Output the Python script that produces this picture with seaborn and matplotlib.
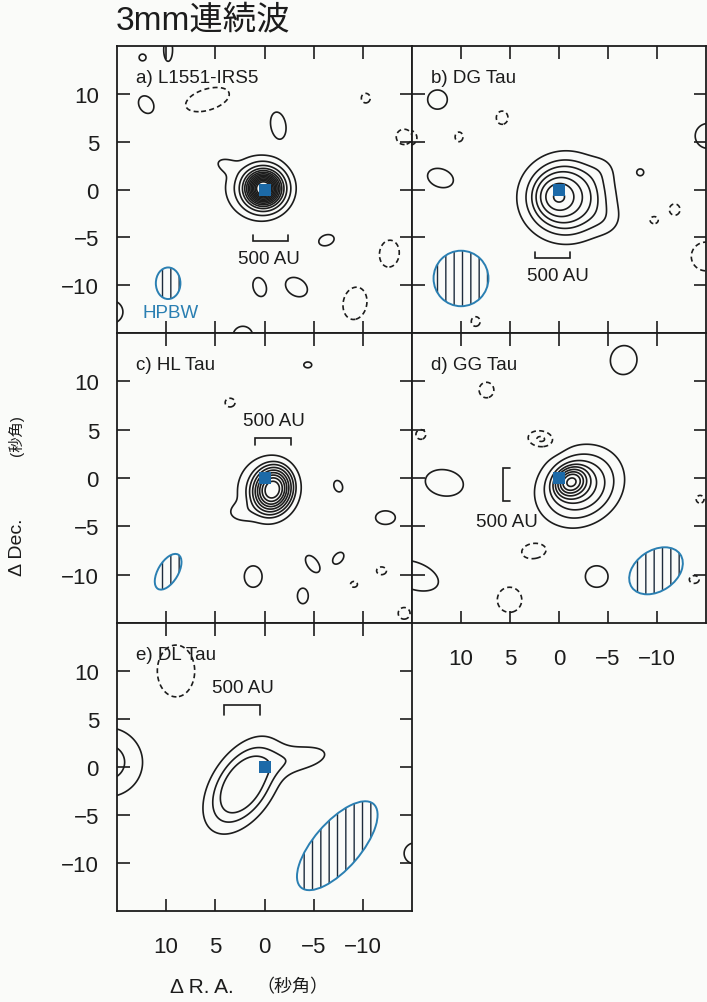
import numpy as np
import matplotlib
matplotlib.use("Agg")
import matplotlib.pyplot as plt
from matplotlib.patches import Ellipse
import seaborn as sns

W, H = 707, 1003
BG = "#fafbf9"
INK = "#1c1c1c"
SQ_BLUE = "#1c6aa8"
BEAM_BLUE = "#2a7fb2"
HATCH_INK = "#1d2b3c"

# ---------------- data ----------------
panel_titles = ["a) L1551-IRS5", "b) DG Tau", "c) HL Tau", "d) GG Tau", "e) DL Tau"]
tick_values = [10, 5, 0, -5, -10]
tick_labels = ["10", "5", "0", "\u22125", "\u221210"]
title_text = "3mm連続波"
xlabel_main, xlabel_unit = "Δ R. A.", "（秒角）"
ylabel_main, ylabel_unit = "Δ Dec.", "(秒角)"

# main emission components: (x, y, amplitude, sigma_major, sigma_minor, angle_deg)
src_a = [(0.1, 0.1, 40, 1.1, 1.1, 0), (0.7, 0.2, 2.5, 2.3, 2.2, 0), (4.0, 2.6, 1.0, 0.9, 0.55, 20)]
src_b = [(0.1, -0.75, 6, 1.0, 1.0, 0), (-0.5, -0.8, 4, 2.2, 2.2, 0), (-1.0, -0.9, 2, 3.5, 3.3, 0),
         (-5.0, -3.3, 0.5, 1.2, 1.2, 0), (-4.5, 2.2, 0.4, 1.0, 1.0, 0)]
src_c = [(-0.8, -1.2, 25, 1.1, 0.9, 105), (-0.4, -1.2, 3.0, 2.3, 2.1, 100), (2.6, -3.6, 0.9, 1.0, 0.7, 0)]
src_d = [(-1.2, -0.4, 6, 1.0, 0.85, 145), (-2.1, -0.85, 4, 2.9, 2.45, 145)]
src_e = [(2.2, -1.9, 5, 3.15, 1.8, 122), (-3.8, 0.9, 1.5, 2.6, 1.1, 168)]

# noise islands: (x, y, amplitude, level-1 radius major, level-1 radius minor, angle_deg)
blobs_a = [(12.4, 13.8, 1.6, 0.35, 0.35, 0), (9.8, 14.6, 1.6, 1.2, 0.45, 90), (12.0, 8.85, 1.6, 1.0, 0.75, 60),
           (5.8, 9.4, -1.6, 2.3, 1.1, 162), (-10.3, 9.55, -1.6, 0.5, 0.45, 90), (-1.4, 6.75, 1.6, 1.35, 0.75, 80),
           (-14.2, 5.5, -1.6, 0.8, 0.8, 0), (-6.3, -5.3, 1.6, 0.8, 0.55, 160), (-12.7, -6.7, -1.6, 1.4, 1.0, 95),
           (0.5, -10.2, 1.6, 1.0, 0.65, 75), (-3.25, -10.2, 1.6, 1.2, 0.9, 35), (-9.2, -11.9, -1.6, 1.7, 1.2, 100),
           (15.6, -12.8, 1.6, 1.2, 1.2, 0), (2.2, -15.3, 1.6, 1.0, 1.0, 0)]
blobs_b = [(12.4, 9.4, 1.6, 1.0, 1.0, 0), (5.8, 7.5, -1.6, 0.7, 0.6, 90), (10.2, 5.5, -1.6, 0.5, 0.4, 90),
           (15.3, 5.4, -1.6, 0.8, 0.8, 0), (12.1, 1.2, 1.6, 1.35, 0.95, 20), (-8.3, 1.8, 1.6, 0.3, 0.3, 0),
           (-11.8, -2.1, -1.6, 0.6, 0.55, 90), (-9.7, -3.2, -1.6, 0.45, 0.4, 0), (-15.2, 5.6, 1.6, 1.3, 1.3, 0),
           (-15.0, -7.0, -1.6, 1.5, 1.5, 0), (8.5, -13.8, -1.6, 0.5, 0.45, 90)]
blobs_c = [(-4.4, 11.7, 1.6, 0.4, 0.3, 0), (3.5, 7.8, -1.6, 0.5, 0.45, 0), (-7.5, -0.85, 1.6, 0.6, 0.42, 70),
           (-12.3, -4.1, 1.6, 1.0, 0.7, 0), (1.15, -10.2, 1.6, 1.1, 0.9, 90), (-4.9, -8.9, 1.6, 1.0, 0.55, 55),
           (-7.5, -8.3, 1.6, 0.7, 0.45, 130), (-3.9, -12.2, 1.6, 0.8, 0.55, 90), (-11.9, -9.6, -1.6, 0.5, 0.4, 0),
           (-9.1, -11.0, -1.6, 0.35, 0.3, 0), (-14.2, -14.0, -1.6, 0.6, 0.6, 0)]
blobs_d = [(-6.6, 12.2, 1.6, 1.5, 1.35, 100), (7.4, 9.1, -1.6, 0.8, 0.75, 90), (1.8, 4.0, -2.3, 1.4, 0.9, 10),
           (14.1, 4.5, -1.6, 0.5, 0.5, 0), (-14.4, -2.2, -1.6, 0.4, 0.4, 0), (11.7, -0.5, 1.6, 1.95, 1.35, 10),
           (2.5, -7.5, -1.6, 1.35, 0.85, 170), (14.8, -10.1, 1.6, 2.6, 1.4, 20), (5.05, -12.6, -1.6, 1.25, 1.3, 0),
           (-3.85, -10.2, 1.6, 1.15, 1.1, 0), (-13.8, -10.5, -1.6, 0.5, 0.4, 0)]
blobs_e = [(9.0, 10.0, -1.6, 2.7, 1.9, 90), (16.0, 0.5, 2.5, 3.6, 3.6, 0), (-15.3, -9.0, 1.6, 1.1, 1.1, 0)]

levels_a = [1, 2.5, 5, 8, 11, 14, 17, 20, 23, 26, 29, 32, 35]
levels_b = [1, 1.8, 2.6, 3.5, 4.9, 7.2, 10.8]
levels_c = [1, 2, 3, 4.5, 6.5, 9, 12, 16, 21]
levels_d = [1, 1.8, 2.6, 3.4, 4.2, 5.2, 6.3, 7.5, 9.0]
levels_e = [1, 2, 3]
neg_levels_a = [-1]
neg_levels_b = [-1]
neg_levels_c = [-1]
neg_levels_d = [-2, -1]
neg_levels_e = [-1]

# beam (HPBW): (x, y, semi_major, semi_minor, angle_deg)
beam_a = (9.8, -9.8, 1.65, 1.25, 90)
beam_b = (10.0, -9.3, 2.9, 2.8, 90)
beam_c = (9.8, -9.7, 2.05, 1.03, 120)
beam_d = (-9.9, -9.6, 3.0, 2.1, 145)
beam_e = (-7.4, -8.2, 5.7, 2.4, 130)

# stellar position markers
star_x = [0, 0, 0, 0, 0]
star_y = [0, 0, 0, 0, 0]

# 500 AU scale bars: (orientation, start, end, position, tick length)
bar_a = ("h", 1.2, -2.4, -5.4, 0.6)
bar_b = ("h", 2.4, -1.1, -7.2, 0.7)
bar_c = ("h", 1.0, -2.7, 4.1, -0.65)
bar_d = ("v", 1.05, -2.4, 5.7, -0.7)
bar_e = ("h", 4.15, 0.5, 6.45, -1.05)
bar_text_xy = [(-0.5, -7.2), (0.15, -9.0), (-1.0, 6.0), (5.3, -4.5), (2.2, 8.25)]
bar_text = "500 AU"
hpbw_text, hpbw_xy = "HPBW", (9.5, -12.9)

# ---------------- style ----------------
sns.set_theme(style="ticks")
plt.rcParams["font.family"] = ["Liberation Sans", "Noto Sans CJK JP", "DejaVu Sans"]
plt.rcParams["hatch.linewidth"] = 1.0
plt.rcParams["lines.dashed_pattern"] = [3.0, 2.0]
plt.rcParams["axes.unicode_minus"] = True

fig = plt.figure(figsize=(W / 100, H / 100), dpi=100, facecolor=BG)


def rect(l, t, r, b):
    return [l / W, 1 - b / H, (r - l) / W, (b - t) / H]


boxes = [rect(117, 47, 412, 334), rect(412, 47, 706, 334), rect(117, 334, 412, 624),
         rect(412, 334, 706, 624), rect(117, 624, 412, 912)]
show_left = [True, False, True, False, True]
show_bottom = [False, False, False, True, True]

gx = np.linspace(-17.5, 17.5, 701)
X, Y = np.meshgrid(gx, gx)


def gauss(x0, y0, amp, sa, sb, ang):
    t = np.deg2rad(ang)
    dx, dy = X - x0, Y - y0
    u = dx * np.cos(t) + dy * np.sin(t)
    v = -dx * np.sin(t) + dy * np.cos(t)
    return amp * np.exp(-0.5 * ((u / sa) ** 2 + (v / sb) ** 2))


def field(src, blobs):
    Z = np.zeros_like(X)
    for c in src:
        Z += gauss(*c)
    for (x0, y0, amp, ra, rb, ang) in blobs:
        k = np.sqrt(2 * np.log(abs(amp)))
        Z += gauss(x0, y0, amp, ra / k, rb / k, ang)
    return Z


srcs = [src_a, src_b, src_c, src_d, src_e]
blobs = [blobs_a, blobs_b, blobs_c, blobs_d, blobs_e]
levels = [levels_a, levels_b, levels_c, levels_d, levels_e]
neg_levels = [neg_levels_a, neg_levels_b, neg_levels_c, neg_levels_d, neg_levels_e]
beams = [beam_a, beam_b, beam_c, beam_d, beam_e]
bars = [bar_a, bar_b, bar_c, bar_d, bar_e]

for i in range(5):
    ax = fig.add_axes(boxes[i])
    ax.set_facecolor(BG)
    Z = field(srcs[i], blobs[i])
    ax.contour(X, Y, Z, levels=levels[i], colors=INK, linewidths=1.2, linestyles="solid")
    ax.contour(X, Y, Z, levels=neg_levels[i], colors=INK, linewidths=1.2, linestyles="dashed")

    bx, by, ba, bb, bang = beams[i]
    ax.add_patch(Ellipse((bx, by), 2 * ba, 2 * bb, angle=bang, facecolor="none",
                         edgecolor=HATCH_INK, linewidth=0, hatch="||", zorder=3))
    ax.add_patch(Ellipse((bx, by), 2 * ba, 2 * bb, angle=bang, facecolor="none",
                         edgecolor=BEAM_BLUE, linewidth=1.4, zorder=4))

    sns.scatterplot(x=[star_x[i]], y=[star_y[i]], marker="s", s=80, color=SQ_BLUE,
                    edgecolor=SQ_BLUE, linewidth=0, ax=ax, zorder=6, legend=False)

    o, s0, s1, p, tk = bars[i]
    if o == "h":
        ax.plot([s0, s0, s1, s1], [p + tk, p, p, p + tk], color=INK, lw=1.2, solid_joinstyle="miter")
    else:
        ax.plot([p + tk, p, p, p + tk], [s0, s0, s1, s1], color=INK, lw=1.2, solid_joinstyle="miter")
    tx, ty = bar_text_xy[i]
    ax.text(tx, ty, bar_text, ha="center", va="center", fontsize=13.5, color=INK)

    ax.text(0.065, 0.89, panel_titles[i], transform=ax.transAxes, ha="left", va="center",
            fontsize=13.5, color=INK)
    if i == 0:
        ax.text(hpbw_xy[0], hpbw_xy[1], hpbw_text, ha="center", va="center",
                fontsize=13.5, color=BEAM_BLUE)

    ax.set_xlim(15, -15)
    ax.set_ylim(-15, 15)
    ax.set_xticks(tick_values)
    ax.set_yticks(tick_values)
    ax.set_xticklabels(tick_labels)
    ax.set_yticklabels(tick_labels)
    ax.set_xlabel("")
    ax.set_ylabel("")
    ax.tick_params(axis="both", direction="in", length=9, width=1.2, colors=INK,
                   top=True, right=True, bottom=True, left=True, labelsize=16,
                   labelleft=show_left[i], labelbottom=show_bottom[i],
                   labelright=False, labeltop=False)
    ax.tick_params(axis="x", pad=18)
    ax.tick_params(axis="y", pad=13)
    for sp in ax.spines.values():
        sp.set_visible(True)
        sp.set_linewidth(1.3)
        sp.set_color(INK)


def fx(px):
    return px / W


def fy(py):
    return 1 - py / H


fig.text(fx(116), fy(21), title_text, ha="left", va="center", fontsize=24, color=INK)
fig.text(fx(170), fy(988), xlabel_main, ha="left", va="center", fontsize=15, color=INK)
fig.text(fx(256), fy(988), xlabel_unit, ha="left", va="center", fontsize=13, color=INK)
fig.text(fx(18), fy(576), ylabel_main, ha="center", va="bottom", rotation=90, fontsize=14, color=INK)
fig.text(fx(16), fy(456), ylabel_unit, ha="center", va="bottom", rotation=90, fontsize=11, color=INK)

fig.savefig("out.png", dpi=100, facecolor=BG)
